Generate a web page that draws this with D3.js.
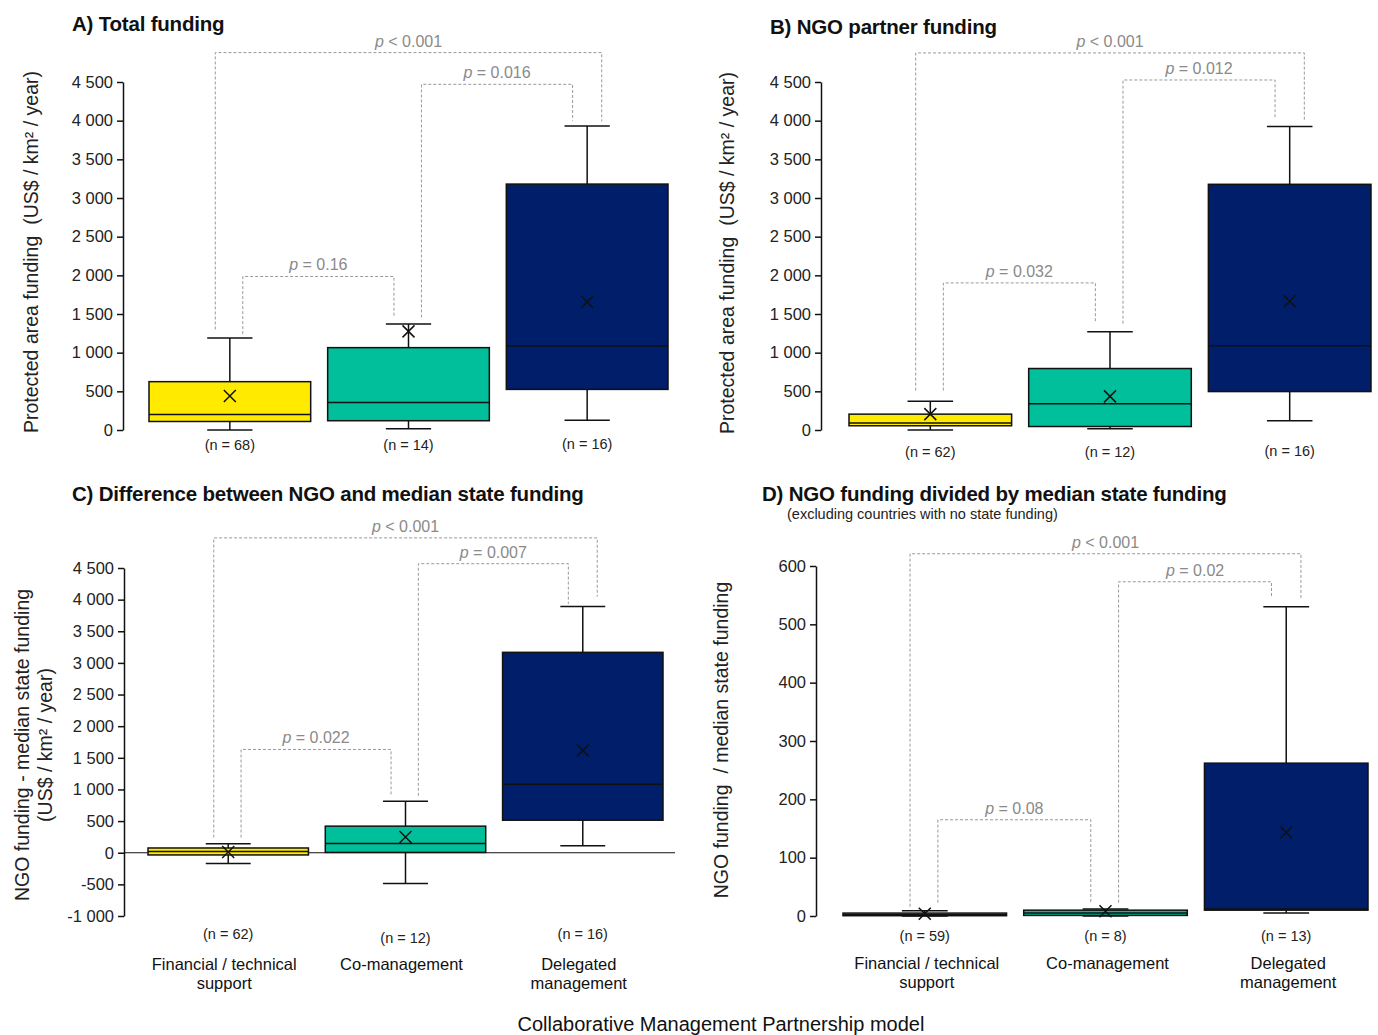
<!DOCTYPE html>
<html>
<head>
<meta charset="utf-8">
<script src="https://cdn.jsdelivr.net/npm/d3@7"></script>
<style>
  body { margin: 0; background: #fff; }
  text { font-family: "Liberation Sans", Arial, sans-serif; white-space: pre; }
</style>
</head>
<body>
<svg id="chart" width="1378" height="1035"></svg>
<script>
// categories
var models = ["Financial / technical support", "Co-management", "Delegated management"];
var modelLines = [["Financial / technical", "support"], ["Co-management"], ["Delegated", "management"]];
var boxColors = ["#FFEA00", "#00BF9A", "#001E69"];

// tick values
var fundingTicks = [0, 500, 1000, 1500, 2000, 2500, 3000, 3500, 4000, 4500];
var diffTicks = [-1000, -500, 0, 500, 1000, 1500, 2000, 2500, 3000, 3500, 4000, 4500];
var ratioTicks = [0, 100, 200, 300, 400, 500, 600];

// box stats: [whisker low, q1, median, q3, whisker high, mean]
var totalStats = [[0, 110, 200, 625, 1190, 440], [15, 120, 355, 1065, 1370, 1275], [125, 525, 1085, 3180, 3930, 1655]];
var ngoStats = [[0, 55, 90, 205, 372, 205], [15, 45, 340, 795, 1270, 435], [120, 497, 1090, 3177, 3925, 1664]];
var diffStats = [[-170, -35, 20, 75, 140, 10], [-485, 5, 145, 420, 815, 250], [110, 514, 1081, 3167, 3893, 1615]];
var ratioStats = [[0, 0.5, 2.5, 5, 9, 4], [0, 1, 5, 10, 12, 8], [5, 10, 12, 262, 530, 143]];

// sample sizes
var totalN = [68, 14, 16];
var ngoN = [62, 12, 16];
var diffN = [62, 12, 16];
var ratioN = [59, 8, 13];

// pairwise tests: groups a-b, bracket height, leg ends, label
var totalTests = [
  {a: 0, b: 2, y: 4880, ends: [1300, 3990], label: "< 0.001"},
  {a: 1, b: 2, y: 4470, ends: [1455, 4000], label: "= 0.016"},
  {a: 0, b: 1, y: 1985, ends: [1240, 1455], label: "= 0.16"}
];
var ngoTests = [
  {a: 0, b: 2, y: 4876, ends: [510, 3990], label: "< 0.001"},
  {a: 1, b: 2, y: 4526, ends: [1375, 4046], label: "= 0.012"},
  {a: 0, b: 1, y: 1902, ends: [510, 1396], label: "= 0.032"}
];
var diffTests = [
  {a: 0, b: 2, y: 4976, ends: [240, 4046], label: "< 0.001"},
  {a: 1, b: 2, y: 4568, ends: [900, 3933], label: "= 0.007"},
  {a: 0, b: 1, y: 1632, ends: [240, 900], label: "= 0.022"}
];
var ratioTests = [
  {a: 0, b: 2, y: 621, ends: [16, 542], label: "< 0.001"},
  {a: 1, b: 2, y: 573, ends: [23, 545], label: "= 0.02"},
  {a: 0, b: 1, y: 165, ends: [23, 23], label: "= 0.08"}
];

var panels = [
  {title: "A) Total funding", tx: 72, ty: 31, stats: totalStats, n: totalN, tests: totalTests,
   ticks: fundingTicks, domain: [0, 4500], axisX: 123, yTop: 82, yBot: 430, band: [149, 668],
   ylab: ["Protected area funding  (US$ / km² / year)"], ylx: [38], yly: 252, ny: [450, 450, 449]},
  {title: "B) NGO partner funding", tx: 770, ty: 34, stats: ngoStats, n: ngoN, tests: ngoTests,
   ticks: fundingTicks, domain: [0, 4500], axisX: 821, yTop: 82, yBot: 430, band: [849, 1371],
   ylab: ["Protected area funding  (US$ / km² / year)"], ylx: [734], yly: 253, ny: [457, 457, 456]},
  {title: "C) Difference between NGO and median state funding", tx: 72, ty: 501, stats: diffStats, n: diffN, tests: diffTests,
   ticks: diffTicks, domain: [-1000, 4500], axisX: 124, yTop: 568, yBot: 916, band: [148, 663],
   ylab: ["NGO funding - median state funding", "(US$ / km² / year)"], ylx: [29, 52], yly: 745, ny: [939, 943, 939],
   zeroEnd: 675, cats: true, cy: 970, cshift: -4},
  {title: "D) NGO funding divided by median state funding", tx: 762, ty: 501, stats: ratioStats, n: ratioN, tests: ratioTests,
   sub: "(excluding countries with no state funding)", ticks: ratioTicks, domain: [0, 600], axisX: 816, yTop: 566, yBot: 916, band: [843, 1368],
   ylab: ["NGO funding  / median state funding"], ylx: [728], yly: 740, ny: [941, 941, 941], cats: true, cy: 969, cshift: 2}
];

var svg = d3.select("#chart");
var fmt = d3.formatLocale({decimal: ".", thousands: " ", grouping: [3], currency: ["", ""], minus: "-"}).format(",d");

panels.forEach(function(p) {
  var y = d3.scaleLinear().domain(p.domain).range([p.yBot, p.yTop]);
  var x = d3.scaleBand().domain(d3.range(models.length)).range(p.band).paddingInner(0.095);
  var bw = x.bandwidth();
  var cx = function(i) { return x(i) + bw / 2; };
  var g = svg.append("g");

  // title
  g.append("text").attr("x", p.tx).attr("y", p.ty).text(p.title)
   .attr("font-size", 20.5).attr("font-weight", "bold").attr("fill", "#111").attr("letter-spacing", -0.2);
  if (p.sub) {
    g.append("text").attr("x", p.tx + 25).attr("y", p.ty + 18).text(p.sub)
     .attr("font-size", 14.5).attr("fill", "#222");
  }

  // y axis
  var ax = g.append("g").attr("transform", "translate(" + p.axisX + ",0)")
    .call(d3.axisLeft(y).tickValues(p.ticks).tickFormat(fmt).tickSize(6).tickSizeOuter(0).tickPadding(4));
  ax.selectAll("path, line").attr("stroke", "#111").attr("stroke-width", 1.5);
  ax.selectAll("text").attr("font-size", 16.5).attr("fill", "#222")
    .style("font-family", "'Liberation Sans', Arial, sans-serif");

  // y label
  p.ylab.forEach(function(t, k) {
    g.append("text").attr("transform", "translate(" + p.ylx[k] + "," + p.yly + ") rotate(-90)")
     .attr("text-anchor", "middle").attr("font-size", 19.5).attr("fill", "#222").text(t);
  });

  if (p.zeroEnd) {
    g.append("line").attr("x1", p.axisX).attr("x2", p.zeroEnd)
     .attr("y1", y(0)).attr("y2", y(0)).attr("stroke", "#111").attr("stroke-width", 1.2);
  }

  // significance brackets
  var bg = g.append("g").attr("fill", "none").attr("stroke", "#999").attr("stroke-width", 1)
    .attr("stroke-dasharray", "3,2");
  p.tests.forEach(function(t) {
    var outer = (t.b - t.a) > 1;
    var x1 = cx(t.a) + (outer ? -0.09 : 0.08) * bw;
    var x2 = cx(t.b) + (outer ? 0.09 : -0.09) * bw;
    bg.append("path")
      .attr("d", "M" + x1 + "," + y(t.ends[0]) + "V" + y(t.y) + "H" + x2 + "V" + y(t.ends[1]));
    var lab = g.append("text").attr("x", (x1 + x2) / 2).attr("y", y(t.y) - 6)
      .attr("text-anchor", "middle").attr("font-size", 16).attr("fill", "#8a8a8a");
    lab.append("tspan").attr("font-style", "italic").text("p");
    lab.append("tspan").text(" " + t.label);
  });

  // boxes
  p.stats.forEach(function(s, i) {
    var c = cx(i), cap = bw * 0.14;
    var bx = g.append("g").attr("stroke", "#111").attr("stroke-width", 1.5);
    bx.append("line").attr("x1", c).attr("x2", c).attr("y1", y(s[3])).attr("y2", y(s[4]));
    bx.append("line").attr("x1", c).attr("x2", c).attr("y1", y(s[1])).attr("y2", y(s[0]));
    bx.append("line").attr("x1", c - cap).attr("x2", c + cap).attr("y1", y(s[4])).attr("y2", y(s[4]));
    bx.append("line").attr("x1", c - cap).attr("x2", c + cap).attr("y1", y(s[0])).attr("y2", y(s[0]));
    bx.append("rect").attr("x", x(i)).attr("width", bw)
      .attr("y", y(s[3])).attr("height", y(s[1]) - y(s[3])).attr("fill", boxColors[i]);
    bx.append("line").attr("x1", x(i)).attr("x2", x(i) + bw).attr("y1", y(s[2])).attr("y2", y(s[2]));
    bx.append("path").attr("transform", "translate(" + c + "," + y(s[5]) + ")")
      .attr("d", "M-6,-6L6,6M-6,6L6,-6").attr("fill", "none");

    g.append("text").attr("x", c).attr("y", p.ny[i]).attr("text-anchor", "middle")
     .attr("font-size", 14.5).attr("fill", "#222").text("(n = " + p.n[i] + ")");

    if (p.cats) {
      modelLines[i].forEach(function(t, k) {
        g.append("text").attr("x", c + p.cshift).attr("y", p.cy + k * 19).attr("text-anchor", "middle")
         .attr("font-size", 16.5).attr("fill", "#111").text(t);
      });
    }
  });
});

svg.append("text").attr("x", 721).attr("y", 1031).attr("text-anchor", "middle")
   .attr("font-size", 20).attr("fill", "#111").text("Collaborative Management Partnership model");
</script>
</body>
</html>
